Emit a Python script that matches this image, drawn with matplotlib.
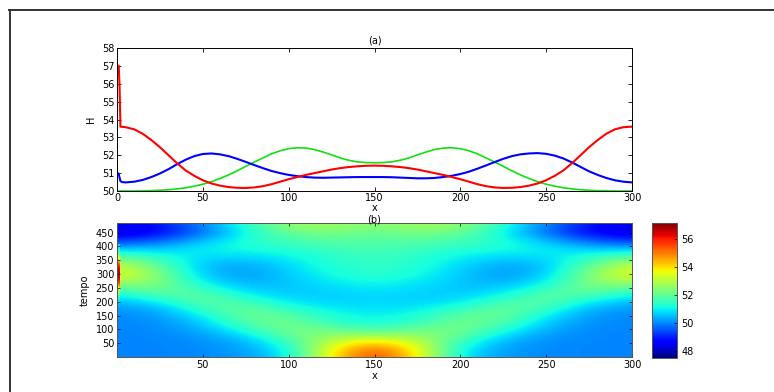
import numpy as np
import matplotlib
matplotlib.use("Agg")
import matplotlib.pyplot as plt
from matplotlib.lines import Line2D

plt.rcParams['font.family'] = ['DejaVu Sans']
plt.rcParams['font.size'] = 7

# ---------------- data: panel (a) ----------------
red_x = np.concatenate([[0, 0.5, 1, 1.5, 2], np.arange(5, 301, 5)])
red_H = [57.1, 56.9, 57.0, 55.8, 53.6,
         53.57, 53.45, 53.2, 52.85, 52.45, 52.0, 51.55, 51.15, 50.85, 50.6,
         50.42, 50.3, 50.22, 50.18, 50.17, 50.2, 50.27, 50.38, 50.52, 50.66,
         50.78, 50.9, 51.0, 51.1, 51.2, 51.28, 51.34, 51.38, 51.41, 51.42,
         51.41, 51.38, 51.34, 51.28, 51.2, 51.1, 51.0, 50.9, 50.78, 50.66,
         50.52, 50.38, 50.27, 50.2, 50.17, 50.18, 50.22, 50.3, 50.42, 50.6,
         50.85, 51.15, 51.55, 52.0, 52.45, 52.85, 53.2, 53.45, 53.57, 53.6]

blue_x = np.concatenate([[0, 0.5, 1, 2, 3], np.arange(5, 301, 5)])
blue_H = [51.0, 51.0, 50.95, 50.55, 50.5,
          50.48, 50.52, 50.62, 50.78, 50.98, 51.22, 51.5, 51.75, 51.95, 52.07,
          52.1, 52.05, 51.95, 51.8, 51.63, 51.45, 51.28, 51.12, 51.0, 50.9,
          50.83, 50.78, 50.75, 50.74, 50.75, 50.76, 50.77, 50.78, 50.78, 50.78,
          50.78, 50.77, 50.75, 50.73, 50.71, 50.71, 50.73, 50.78, 50.85, 50.95,
          51.08, 51.25, 51.43, 51.62, 51.8, 51.95, 52.05, 52.1, 52.12, 52.08,
          51.98, 51.82, 51.6, 51.35, 51.1, 50.9, 50.73, 50.6, 50.52, 50.48]

green_x = np.arange(0, 301, 5)
green_H = [50.0, 50.0, 50.0, 50.01, 50.02, 50.04, 50.07, 50.12, 50.18, 50.27,
           50.38, 50.52, 50.7, 50.9, 51.13, 51.38, 51.62, 51.85, 52.08, 52.25,
           52.37, 52.42, 52.4, 52.32, 52.18, 52.02, 51.85, 51.72, 51.63, 51.59,
           51.58, 51.59, 51.63, 51.72, 51.85, 52.02, 52.18, 52.32, 52.4, 52.42,
           52.37, 52.25, 52.08, 51.85, 51.62, 51.38, 51.13, 50.9, 50.7, 50.52,
           50.38, 50.27, 50.18, 50.12, 50.07, 50.04, 50.02, 50.01, 50.0, 50.0,
           50.0]

# ---------------- data: panel (b) ----------------
grid_x = [0, 25, 50, 75, 100, 125, 150, 175, 200, 225, 250, 275, 300]
grid_t = [0, 30, 60, 90, 120, 150, 180, 210, 240, 270, 300, 330, 360, 390, 420, 450, 480]
grid_H = [
    [50.0, 50.0, 50.05, 50.2, 50.9, 53.9, 55.9, 53.9, 50.9, 50.2, 50.05, 50.0, 50.0],
    [50.0, 50.0, 50.05, 50.25, 51.1, 53.7, 55.4, 53.7, 51.1, 50.25, 50.05, 50.0, 50.0],
    [50.0, 50.0, 50.1, 50.5, 51.6, 53.1, 53.9, 53.1, 51.6, 50.5, 50.1, 50.0, 50.0],
    [50.0, 50.03, 50.3, 51.1, 52.3, 52.4, 52.0, 52.4, 52.3, 51.1, 50.3, 50.03, 50.0],
    [50.0, 50.1, 50.6, 51.8, 52.3, 51.6, 51.2, 51.6, 52.3, 51.8, 50.6, 50.1, 50.0],
    [50.05, 50.2, 51.0, 52.2, 52.0, 51.2, 51.0, 51.2, 52.0, 52.2, 51.0, 50.2, 50.05],
    [50.2, 50.5, 51.7, 52.1, 51.3, 50.9, 50.85, 50.9, 51.3, 52.1, 51.7, 50.5, 50.2],
    [50.7, 51.3, 52.1, 51.4, 50.8, 50.7, 50.8, 50.7, 50.8, 51.4, 52.1, 51.3, 50.7],
    [51.5, 52.2, 51.7, 50.8, 50.6, 50.75, 50.9, 50.75, 50.6, 50.8, 51.7, 52.2, 51.5],
    [52.8, 52.4, 51.0, 50.4, 50.6, 50.95, 51.15, 50.95, 50.6, 50.4, 51.0, 52.4, 52.8],
    [53.6, 52.45, 50.6, 50.17, 50.66, 51.2, 51.42, 51.2, 50.66, 50.17, 50.6, 52.45, 53.6],
    [53.3, 52.0, 50.5, 50.3, 50.8, 51.3, 51.5, 51.3, 50.8, 50.3, 50.5, 52.0, 53.3],
    [52.2, 51.4, 50.8, 50.7, 51.0, 51.4, 51.6, 51.4, 51.0, 50.7, 50.8, 51.4, 52.2],
    [50.7, 50.7, 51.0, 51.2, 51.3, 51.6, 51.7, 51.6, 51.3, 51.2, 51.0, 50.7, 50.7],
    [49.3, 49.7, 50.6, 51.3, 51.7, 51.9, 51.9, 51.9, 51.7, 51.3, 50.6, 49.7, 49.3],
    [48.3, 48.7, 49.8, 51.1, 52.1, 52.3, 52.1, 52.3, 52.1, 51.1, 49.8, 48.7, 48.3],
    [48.4, 48.9, 50.0, 51.4, 52.7, 52.8, 52.4, 52.8, 52.7, 51.4, 50.0, 48.9, 48.4],
]
edge_t = [210, 240, 270, 300, 330, 360, 390]
edge_H = [50.7, 53.0, 56.0, 57.1, 56.0, 53.0, 50.7]

cbar_ticks = [48, 50, 52, 54, 56]
H_min, H_max = 47.53, 57.17

# ---------------- figure ----------------
W, Hh = 774, 392
fig = plt.figure(figsize=(W / 100, Hh / 100), dpi=100)

def rect(x0, y0, x1, y1):
    return [x0 / W, 1 - y1 / Hh, (x1 - x0) / W, (y1 - y0) / Hh]

# frame lines (partial border of the original screenshot)
fig.add_artist(Line2D([9 / W, 1.0], [1 - 10 / Hh, 1 - 10 / Hh], color='#333333', lw=1.4,
                      transform=fig.transFigure))
fig.add_artist(Line2D([10 / W, 10 / W], [1 - 10 / Hh, 0], color='#333333', lw=1.4,
                      transform=fig.transFigure))

# panel (a)
ax1 = fig.add_axes(rect(117, 48, 632, 191))
ax1.plot(green_x, green_H, color='#10e010', lw=1.2)
ax1.plot(blue_x, blue_H, color='#0000ff', lw=1.5)
ax1.plot(red_x, red_H, color='#ff0000', lw=1.5)
ax1.set_xlim(0, 300)
ax1.set_ylim(50, 58)
ax1.set_xticks([0, 50, 100, 150, 200, 250, 300])
ax1.set_yticks([50, 51, 52, 53, 54, 55, 56, 57, 58])
ax1.set_title('(a)', fontsize=7, pad=3)
ax1.set_xlabel('x', fontsize=7, labelpad=0)
ax1.set_ylabel('H', fontsize=7, labelpad=4)
ax1.tick_params(direction='in', length=3, width=0.6, pad=2, labelsize=7,
                top=True, right=True)
ax1.tick_params(axis='x', pad=1.2)
for s in ax1.spines.values():
    s.set_linewidth(0.7)

# panel (b)
ax2 = fig.add_axes(rect(117, 223, 632, 357))
im = ax2.imshow(np.array(grid_H), origin='lower', aspect='auto', cmap='jet',
                vmin=H_min, vmax=H_max, interpolation='bicubic',
                interpolation_stage='data',
                extent=[grid_x[0] - 12.5, grid_x[-1] + 12.5,
                        grid_t[0] - 15, grid_t[-1] + 15])
ax2.imshow(np.array(edge_H)[:, None], origin='lower', aspect='auto', cmap='jet',
           vmin=H_min, vmax=H_max, interpolation='bicubic',
           interpolation_stage='data',
           extent=[0, 1.6, edge_t[0] - 15, edge_t[-1] + 15])
ax2.set_xlim(0, 300)
ax2.set_ylim(0, 485)
ax2.set_xticks([50, 100, 150, 200, 250, 300])
ax2.set_yticks([50, 100, 150, 200, 250, 300, 350, 400, 450])
ax2.set_title('(b)', fontsize=7, pad=0)
ax2.set_xlabel('x', fontsize=7, labelpad=1)
ax2.set_ylabel('tempo', fontsize=7, labelpad=4)
ax2.tick_params(direction='in', length=2, width=0.5, pad=2, labelsize=7,
                top=True, right=True)
for s in ax2.spines.values():
    s.set_linewidth(0.7)
    s.set_color('#555555')

cax = fig.add_axes(rect(652, 223, 677, 358))
cb = fig.colorbar(im, cax=cax, ticks=cbar_ticks)
cb.ax.tick_params(direction='in', length=2, width=0.5, pad=3, labelsize=7)
cb.outline.set_linewidth(0.7)
cb.outline.set_edgecolor('#555555')

fig.savefig('out.png', dpi=100)
